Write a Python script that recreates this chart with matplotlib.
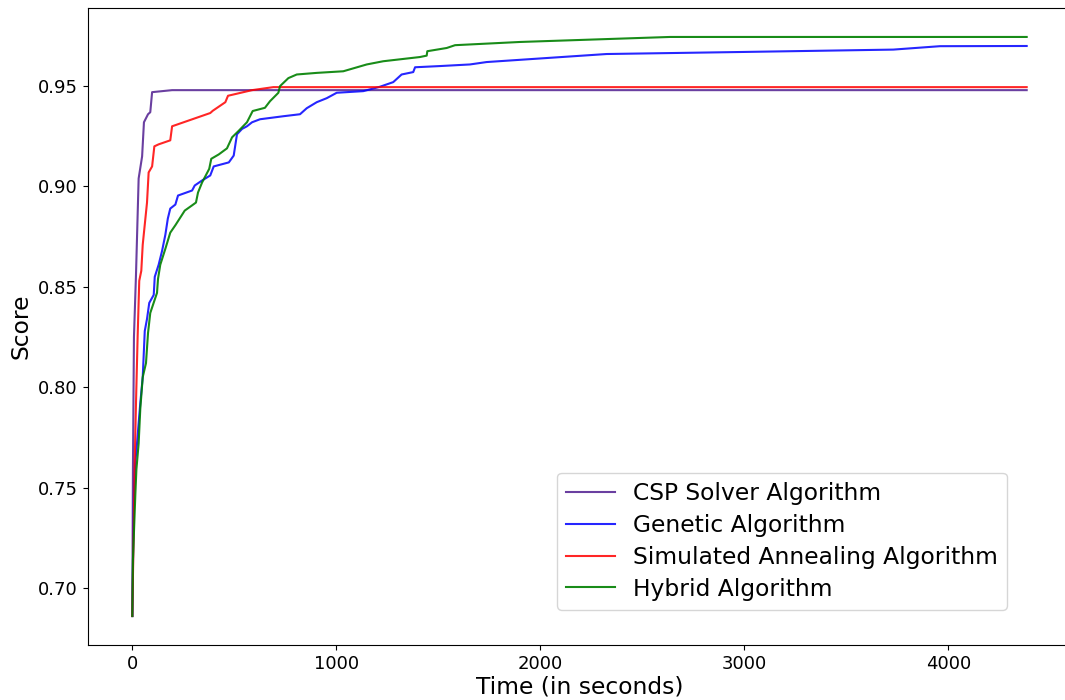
import matplotlib
matplotlib.use("Agg")
import matplotlib.pyplot as plt

# time (s) / score traces for each solver
csp_t = [0, 3, 8, 18, 31, 48, 57, 77, 88, 97, 195, 4384]
csp_v = [0.686, 0.759, 0.825, 0.856, 0.904, 0.915, 0.932, 0.936, 0.937, 0.947, 0.948, 0.948]

gen_t = [0, 8, 14, 23, 39, 51, 61, 72, 83, 105, 110, 129, 146, 162, 174, 186, 211, 224,
         293, 306, 342, 382, 399, 473, 497, 513, 538, 562, 587, 626, 740, 822, 855, 904,
         953, 1002, 1132, 1214, 1279, 1320, 1377, 1386, 1508, 1655, 1737, 2325, 2979,
         3730, 3959, 4384]
gen_v = [0.686, 0.748, 0.762, 0.772, 0.792, 0.805, 0.828, 0.834, 0.842, 0.846, 0.855, 0.861,
         0.868, 0.876, 0.884, 0.889, 0.891, 0.8955, 0.898, 0.9005, 0.903, 0.9055, 0.910,
         0.912, 0.9154, 0.926, 0.9287, 0.930, 0.932, 0.9335, 0.935, 0.936, 0.939, 0.942,
         0.944, 0.9467, 0.9475, 0.9497, 0.952, 0.9558, 0.957, 0.9594, 0.960, 0.9608, 0.962,
         0.966, 0.967, 0.9682, 0.9699, 0.970]

sa_t = [0, 12, 18, 26, 34, 44, 51, 72, 80, 97, 108, 129, 186, 195, 382, 394, 456, 469,
        587, 691, 4384]
sa_v = [0.686, 0.764, 0.792, 0.825, 0.853, 0.858, 0.871, 0.892, 0.907, 0.910, 0.920, 0.921,
        0.923, 0.930, 0.9366, 0.9377, 0.942, 0.9452, 0.948, 0.9495, 0.9495]

hyb_t = [0, 3, 15, 20, 31, 39, 51, 67, 77, 88, 121, 126, 137, 162, 186, 211, 257, 293, 312,
         322, 342, 377, 387, 424, 464, 489, 522, 562, 590, 650, 675, 716, 724, 765, 806, 904,
         1034, 1149, 1230, 1410, 1443, 1446, 1541, 1582, 1900, 2636, 4384]
hyb_v = [0.686, 0.714, 0.747, 0.759, 0.772, 0.789, 0.805, 0.812, 0.827, 0.837, 0.847, 0.854,
         0.861, 0.869, 0.877, 0.8807, 0.888, 0.8906, 0.892, 0.897, 0.902, 0.9088, 0.9138,
         0.916, 0.919, 0.9245, 0.9278, 0.932, 0.9376, 0.9392, 0.9425, 0.9467, 0.950, 0.954,
         0.9558, 0.9566, 0.9574, 0.9608, 0.9624, 0.9645, 0.9652, 0.9674, 0.969, 0.9704,
         0.972, 0.9745, 0.9745]

fig = plt.figure(figsize=(10.65, 7.0), dpi=100)
ax = fig.add_axes([87.6 / 1065, 55 / 700, 983.8 / 1065, 637 / 700])

ax.plot(csp_t, csp_v, color="#5a2a96", alpha=0.9, label="CSP Solver Algorithm")
ax.plot(gen_t, gen_v, color="blue", alpha=0.85, label="Genetic Algorithm")
ax.plot(sa_t, sa_v, color="red", alpha=0.85, label="Simulated Annealing Algorithm")
ax.plot(hyb_t, hyb_v, color="green", alpha=0.9, label="Hybrid Algorithm")

ax.set_xlabel("Time (in seconds)", fontsize=16.8, labelpad=2)
ax.set_ylabel("Score", fontsize=16.8)
ax.tick_params(labelsize=13)
ax.legend(fontsize=16.8, loc="lower right", bbox_to_anchor=(0.9345, 0.055),
          borderaxespad=0, labelspacing=0.38, handlelength=2.08, handletextpad=0.76)

fig.savefig("out.png", dpi=100)
